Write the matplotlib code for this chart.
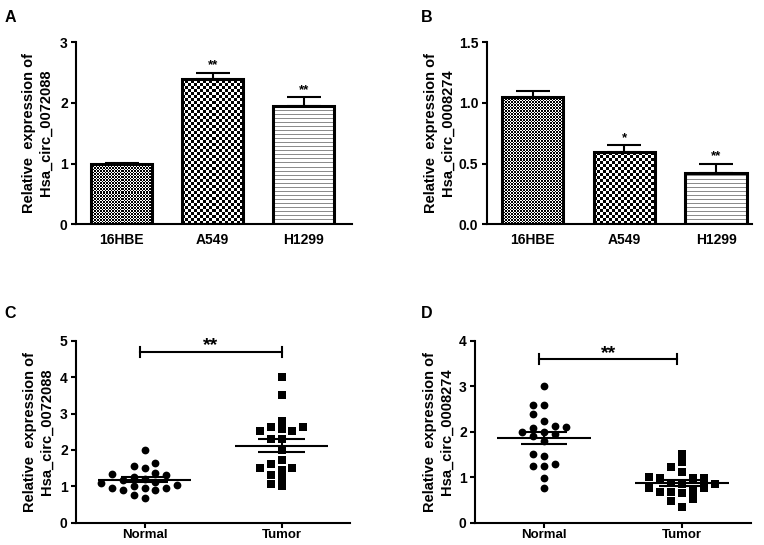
import numpy as np
import matplotlib.pyplot as plt

plt.rcParams['font.family'] = ['Liberation Sans', 'DejaVu Sans']
plt.rcParams['font.weight'] = 'bold'

# bar panels (A, B)
cells = ['16HBE', 'A549', 'H1299']
circ_a = [0.99, 2.40, 1.95]
circ_a_err = [0.02, 0.10, 0.15]
circ_a_sig = ['', '**', '**']
circ_b = [1.05, 0.60, 0.425]
circ_b_err = [0.05, 0.05, 0.075]
circ_b_sig = ['', '*', '**']

# dot plot panels (C, D)
groups = ['Normal', 'Tumor']
c_normal = [1.99, 1.64, 1.51, 1.57, 1.31, 1.34, 1.37, 1.26, 1.16, 1.12, 1.20,
            0.96, 0.96, 0.89, 1.00, 1.02, 0.89, 0.96, 0.68, 0.76, 1.08]
c_tumor = [4.00, 3.52, 2.80, 2.51, 2.63, 2.63, 2.51, 2.57, 2.31, 2.31, 2.00,
           1.71, 1.51, 1.46, 1.23, 1.51, 1.60, 1.32, 1.00, 1.07]
d_normal = [3.00, 2.60, 2.60, 2.40, 2.13, 2.08, 2.10, 2.23, 1.99, 2.00, 1.90,
            1.95, 1.79, 1.47, 1.50, 1.24, 1.24, 1.29, 0.98, 0.76]
d_tumor = [1.51, 1.33, 1.23, 1.12, 0.97, 0.97, 0.97, 1.00, 0.77, 0.77, 0.68,
           0.66, 0.68, 0.70, 0.51, 0.47, 0.34, 0.86, 0.84, 0.85]

W, H = 764, 545
fig = plt.figure(figsize=(W / 100, H / 100), dpi=100)


def px_axes(l, t, r, b):
    return fig.add_axes([l / W, 1 - b / H, (r - l) / W, (b - t) / H])


def style(ax):
    for s in ['top', 'right']:
        ax.spines[s].set_visible(False)
    for s in ['left', 'bottom']:
        ax.spines[s].set_linewidth(1.5)
    ax.tick_params(width=1.5, length=3.5, pad=2.5, labelsize=10)
    for lab in ax.get_xticklabels() + ax.get_yticklabels():
        lab.set_fontweight('bold')


def pattern_fill(ax, bar, kind):
    bb = bar.get_window_extent()
    w, h = max(int(round(bb.width)), 1), max(int(round(bb.height)), 1)
    yy, xx = np.mgrid[0:h, 0:w]
    if kind == 'fine':
        arr = ((yy // 1.5).astype(int) + (xx // 1.5).astype(int)) % 2 * 1.0
    elif kind == 'check':
        arr = ((yy // 3) + (xx // 3)) % 2 * 1.0
    else:
        arr = np.where(yy % 4 == 0, 0.55, 1.0)
    x0, y0 = bar.get_x(), bar.get_y()
    x1, y1 = x0 + bar.get_width(), y0 + bar.get_height()
    im = ax.imshow(arr, extent=(x0, x1, y0, y1), origin='lower', cmap='gray',
                   vmin=0, vmax=1, interpolation='nearest', aspect='auto', zorder=2)
    im.set_clip_path(bar)


def bar_panel(ax, vals, errs, sig, ymax, ticks, ticklabels, xmax):
    x = np.arange(len(cells))
    ax.set_xlim(-0.5, xmax)
    ax.set_ylim(0, ymax)
    ax.errorbar(x, vals, yerr=[np.zeros(len(x)), errs], fmt='none', ecolor='black',
                elinewidth=1.5, capsize=12, capthick=1.5, zorder=1)
    bars = ax.bar(x, vals, width=0.67, facecolor='none', edgecolor='black',
                  linewidth=2.2, zorder=3)
    for b, kind in zip(bars, ['fine', 'check', 'lines']):
        pattern_fill(ax, b, kind)
    for xi, v, e, s in zip(x, vals, errs, sig):
        if s:
            ax.annotate(s, (xi, v + e), xytext=(0, 3), textcoords='offset points',
                        ha='center', va='baseline', fontsize=9.5)
    ax.set_xticks(x)
    ax.set_xticklabels(cells)
    ax.set_yticks(ticks)
    ax.set_yticklabels(ticklabels)
    style(ax)
    ax.tick_params(axis='x', length=0, pad=6)


def swarm(vals, step, diam):
    vals = np.asarray(vals)
    offs = np.zeros(len(vals))
    placed = []
    cand = [0]
    for j in range(1, 20):
        cand += [-j, j]
    for i in np.argsort(vals):
        v = vals[i]
        for c in cand:
            if all(not (pc == c and abs(pv - v) < diam) for pc, pv in placed):
                break
        placed.append((c, v))
        offs[i] = c * step
    return offs


def dot_panel(ax, normal, tumor, ymax, diam, bracket_y, bracket_x, tick_h):
    ax.set_xlim(-0.5, 1.5)
    ax.set_ylim(0, ymax)
    for xi, vals, mk in [(0, normal, 'o'), (1, tumor, 's')]:
        vals = np.asarray(vals)
        ax.plot(xi + swarm(vals, 0.08, diam), vals, mk, color='black', ms=5.6,
                mew=0, zorder=2)
        m = vals.mean()
        sem = vals.std(ddof=1) / np.sqrt(len(vals))
        ax.hlines(m, xi - 0.34, xi + 0.34, color='black', lw=1.5, zorder=3)
        ax.hlines([m - sem, m + sem], xi - 0.17, xi + 0.17, color='black', lw=1.5, zorder=3)
        ax.vlines(xi, m - sem, m + sem, color='black', lw=1.5, zorder=3)
    ax.plot(bracket_x, [bracket_y, bracket_y], color='black', lw=1.5, clip_on=False)
    for bx in bracket_x:
        ax.plot([bx, bx], [bracket_y - tick_h, bracket_y + tick_h], color='black',
                lw=1.5, clip_on=False)
    ax.annotate('**', (np.mean(bracket_x), bracket_y), xytext=(0, 1),
                textcoords='offset points', ha='center', va='baseline', fontsize=14,
                annotation_clip=False)
    ax.set_xticks([0, 1])
    ax.set_xticklabels(groups)
    ax.set_yticks(np.arange(0, ymax + 1))
    style(ax)
    ax.tick_params(axis='x', pad=1, labelsize=9.5)


ax_a = px_axes(76, 42.3, 352, 224.3)
bar_panel(ax_a, circ_a, circ_a_err, circ_a_sig, 3, [0, 1, 2, 3], ['0', '1', '2', '3'], 2.53)

ax_b = px_axes(486.7, 42.3, 752, 224.3)
bar_panel(ax_b, circ_b, circ_b_err, circ_b_sig, 1.5, [0, 0.5, 1.0, 1.5],
          ['0.0', '0.5', '1.0', '1.5'], 2.39)

ax_c = px_axes(76, 341, 350, 522.5)
dot_panel(ax_c, c_normal, c_tumor, 5, 0.22, 4.7, [-0.03, 1.0], 0.14)

ax_d = px_axes(475, 341, 751, 522.5)
dot_panel(ax_d, d_normal, d_tumor, 4, 0.175, 3.6, [-0.035, 0.965], 0.11)

ylabels = [('Relative  expression of\nHsa_circ_0072088', 37.5, 133),
           ('Relative  expression of\nHsa_circ_0008274', 439, 133),
           ('Relative  expression of\nHsa_circ_0072088', 38, 432),
           ('Relative  expression of\nHsa_circ_0008274', 438, 432)]
for txt, x, y in ylabels:
    fig.text(x / W, 1 - y / H, txt, rotation=90, ha='center', va='center',
             fontsize=10.5, fontweight='bold', linespacing=1.25)

for letter, x, y in [('A', 10, 17), ('B', 427, 17), ('C', 10, 313), ('D', 427, 313)]:
    fig.text(x / W, 1 - y / H, letter, ha='center', va='center', fontsize=11.5,
             fontweight='bold')

fig.savefig('out.png', dpi=100)
